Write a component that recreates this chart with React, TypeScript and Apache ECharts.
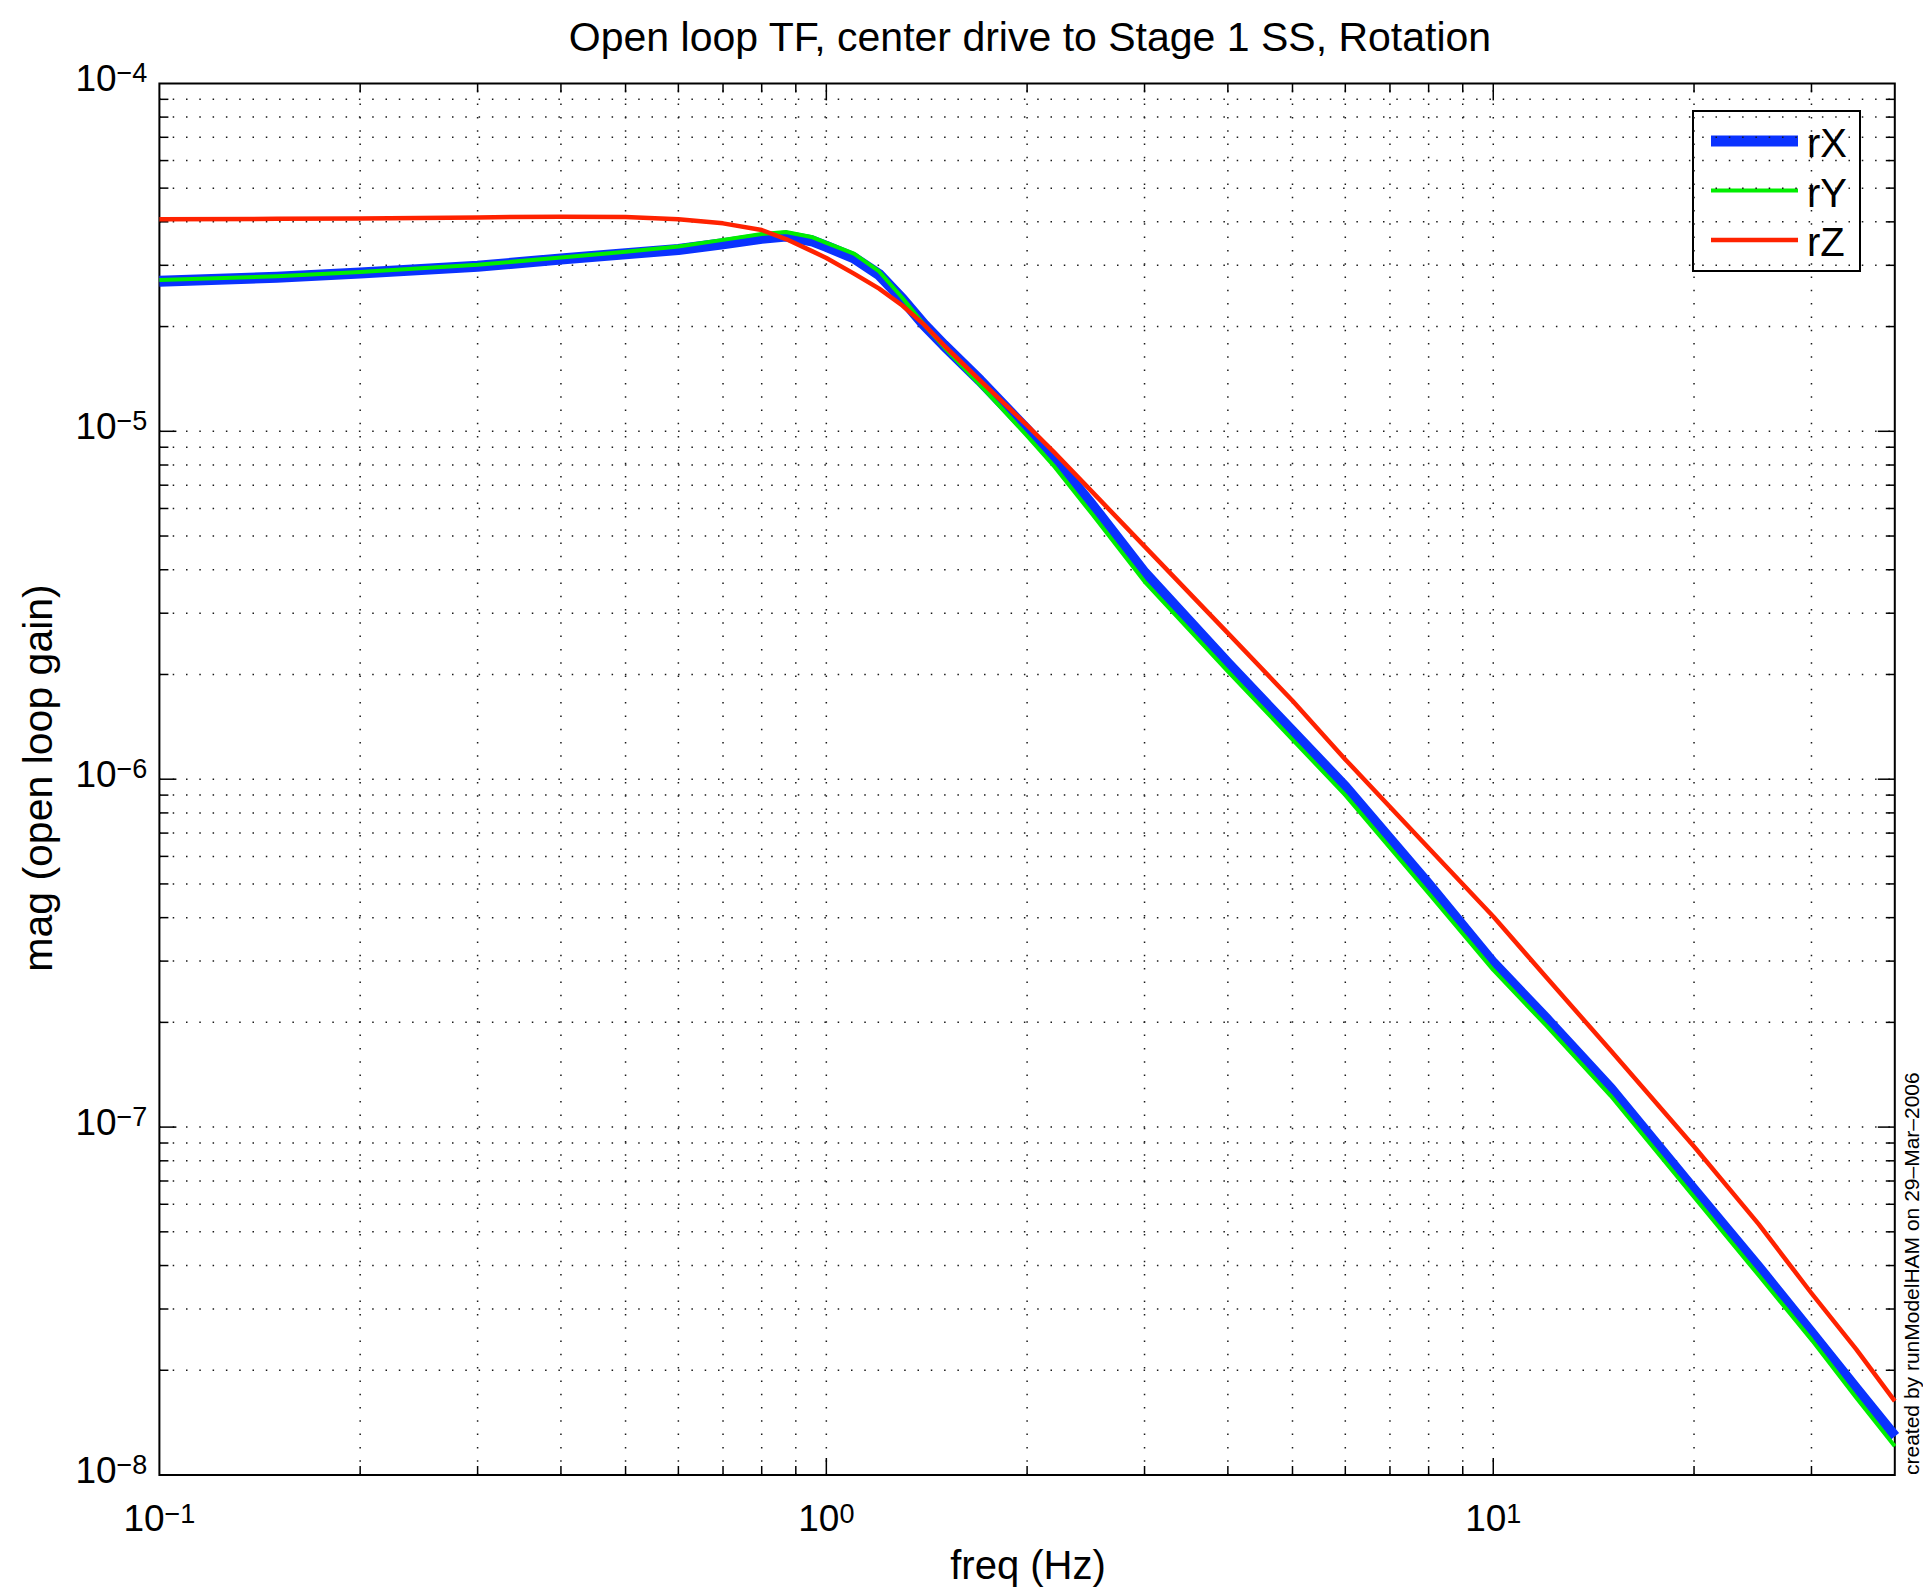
import React, { useEffect, useRef } from "react";
import * as echarts from "echarts";

// ---- data ----
const freqs = [0.1, 0.15, 0.2, 0.3, 0.4, 0.5, 0.6, 0.7, 0.8, 0.87, 0.95, 1.0, 1.1, 1.2, 1.3, 1.4, 1.5, 1.7, 2.0, 2.2, 2.5, 3, 4, 5, 6, 8, 10, 12, 15, 20, 25, 30, 35, 40];
const rXValues = [2.70e-5, 2.77e-5, 2.85e-5, 2.98e-5, 3.13e-5, 3.24e-5, 3.33e-5, 3.46e-5, 3.59e-5, 3.64e-5, 3.53e-5, 3.40e-5, 3.15e-5, 2.82e-5, 2.40e-5, 2.03e-5, 1.77e-5, 1.40e-5, 1.01e-5, 8.3e-6, 6.15e-6, 3.92e-6, 2.15e-6, 1.37e-6, 9.5e-7, 4.98e-7, 2.96e-7, 2.05e-7, 1.29e-7, 6.6e-8, 3.95e-8, 2.56e-8, 1.77e-8, 1.29e-8];
const rYValues = [2.72e-5, 2.79e-5, 2.87e-5, 3.01e-5, 3.16e-5, 3.28e-5, 3.40e-5, 3.55e-5, 3.69e-5, 3.74e-5, 3.62e-5, 3.48e-5, 3.24e-5, 2.88e-5, 2.42e-5, 2.03e-5, 1.75e-5, 1.36e-5, 9.7e-6, 7.9e-6, 5.8e-6, 3.7e-6, 2.04e-6, 1.30e-6, 9.0e-7, 4.7e-7, 2.83e-7, 1.96e-7, 1.23e-7, 6.3e-8, 3.75e-8, 2.45e-8, 1.67e-8, 1.21e-8];
const rZValues = [4.07e-5, 4.08e-5, 4.09e-5, 4.12e-5, 4.14e-5, 4.13e-5, 4.07e-5, 3.96e-5, 3.79e-5, 3.57e-5, 3.30e-5, 3.15e-5, 2.84e-5, 2.57e-5, 2.30e-5, 2.03e-5, 1.77e-5, 1.40e-5, 1.04e-5, 8.67e-6, 6.72e-6, 4.67e-6, 2.63e-6, 1.68e-6, 1.14e-6, 6.34e-7, 4.03e-7, 2.70e-7, 1.66e-7, 8.8e-8, 5.26e-8, 3.33e-8, 2.30e-8, 1.63e-8];

const seriesNames = ["rX", "rY", "rZ"];
const seriesColors = ["#0a32ff", "#00ee00", "#ff2200"];
const seriesWidths = [11, 4, 4.5];

const xTickExps = [-1, 0, 1];
const yTickExps = [-8, -7, -6, -5, -4];
const xGridValues = [0.2, 0.3, 0.4, 0.5, 0.6, 0.7, 0.8, 0.9, 1, 2, 3, 4, 5, 6, 7, 8, 9, 10, 20, 30];
const yGridValues = [
  2e-8, 3e-8, 4e-8, 5e-8, 6e-8, 7e-8, 8e-8, 9e-8,
  1e-7, 2e-7, 3e-7, 4e-7, 5e-7, 6e-7, 7e-7, 8e-7, 9e-7,
  1e-6, 2e-6, 3e-6, 4e-6, 5e-6, 6e-6, 7e-6, 8e-6, 9e-6,
  1e-5, 2e-5, 3e-5, 4e-5, 5e-5, 6e-5, 7e-5, 8e-5, 9e-5,
];

const titleText = "Open loop TF, center drive to Stage 1 SS, Rotation";
const xName = "freq (Hz)";
const yName = "mag (open loop gain)";
const stampText = "created by runModelHAM on 29\u2013Mar\u20132006";

const X_MIN = 0.1;
const X_MAX = 40;
const Y_MIN = 1e-8;
const Y_MAX = 1e-4;

const FONT = "'Liberation Sans', Helvetica, Arial, sans-serif";

const isDecade = (v: number) => {
  const l = Math.log10(v);
  return Math.abs(l - Math.round(l)) < 1e-6;
};

const expFormatter = (allowed: number[]) => (v: number) => {
  const l = Math.log10(v);
  const e = Math.round(l);
  if (Math.abs(l - e) > 1e-6 || allowed.indexOf(e) < 0) return "";
  const s = e < 0 ? "\u2212" + -e : String(e);
  return `{b|10}{s|${s}}`;
};

const richStyle = {
  b: { fontSize: 37, lineHeight: 37, fontFamily: FONT, color: "#000", verticalAlign: "bottom" },
  s: { fontSize: 27, lineHeight: 27, fontFamily: FONT, color: "#000", verticalAlign: "top", padding: [0, 0, 23, 0] },
};

const dotted = { stroke: "#1a1a1a", lineWidth: 1.5, lineDash: [1.5, 11.8] };
const tickStyle = { stroke: "#000", lineWidth: 1.5 };

export default function App() {
  const ref = useRef<HTMLDivElement>(null);

  useEffect(() => {
    if (!ref.current) return;
    const chart = echarts.init(ref.current, undefined, { renderer: "svg" });

    const xGridRender = (_params: any, api: any) => {
      const v = api.value(0);
      const top = api.coord([v, Y_MAX]);
      const bot = api.coord([v, Y_MIN]);
      const len = isDecade(v) ? 17 : 9;
      return {
        type: "group",
        children: [
          { type: "line", shape: { x1: bot[0], y1: bot[1], x2: top[0], y2: top[1] }, style: dotted },
          { type: "line", shape: { x1: bot[0], y1: bot[1], x2: bot[0], y2: bot[1] - len }, style: tickStyle },
          { type: "line", shape: { x1: top[0], y1: top[1], x2: top[0], y2: top[1] + len }, style: tickStyle },
        ],
      };
    };
    const yGridRender = (_params: any, api: any) => {
      const v = api.value(1);
      const l = api.coord([X_MIN, v]);
      const r = api.coord([X_MAX, v]);
      const len = isDecade(v) ? 17 : 9;
      return {
        type: "group",
        children: [
          { type: "line", shape: { x1: l[0], y1: l[1], x2: r[0], y2: r[1] }, style: dotted },
          { type: "line", shape: { x1: l[0], y1: l[1], x2: l[0] + len, y2: l[1] }, style: tickStyle },
          { type: "line", shape: { x1: r[0], y1: r[1], x2: r[0] - len, y2: r[1] }, style: tickStyle },
        ],
      };
    };

    const allValues = [rXValues, rYValues, rZValues];

    const legendX = 1693;
    const legendY = 111;
    const legendW = 167;
    const legendH = 160;
    const legendChildren: any[] = [
      { type: "rect", shape: { x: legendX, y: legendY, width: legendW, height: legendH }, style: { fill: "#fff", stroke: "#000", lineWidth: 2 } },
    ];
    seriesNames.forEach((name, i) => {
      const cy = legendY + 30 + i * 49.5;
      legendChildren.push({
        type: "line",
        shape: { x1: legendX + 18, y1: cy, x2: legendX + 105, y2: cy },
        style: { stroke: seriesColors[i], lineWidth: seriesWidths[i] },
      });
      legendChildren.push({
        type: "text",
        x: legendX + 114,
        y: cy + 2,
        style: { text: name, font: `40px ${FONT}`, fill: "#000", align: "left", verticalAlign: "middle" },
      });
    });

    chart.setOption({
      animation: false,
      backgroundColor: "#fff",
      grid: { left: 159.4, top: 83.4, right: 28.2, bottom: 117, show: true, borderColor: "#000", borderWidth: 2, backgroundColor: "transparent" },
      xAxis: {
        type: "log",
        logBase: 10,
        min: X_MIN,
        max: X_MAX,
        interval: 1,
        axisLine: { show: false },
        axisTick: { show: false },
        splitLine: { show: false },
        axisLabel: { formatter: expFormatter(xTickExps), rich: richStyle, margin: 25, showMaxLabel: false },
      },
      yAxis: {
        type: "log",
        logBase: 10,
        min: Y_MIN,
        max: Y_MAX,
        interval: 1,
        axisLine: { show: false },
        axisTick: { show: false },
        splitLine: { show: false },
        axisLabel: { formatter: expFormatter(yTickExps), rich: richStyle, margin: 12, padding: [0, 0, 10, 0] },
      },
      series: [
        {
          type: "custom",
          name: "xgrid",
          z: 1,
          silent: true,
          clip: false,
          renderItem: xGridRender,
          data: xGridValues.map((v) => [v, 1e-6]),
          encode: { x: 0, y: 1 },
        },
        {
          type: "custom",
          name: "ygrid",
          z: 1,
          silent: true,
          clip: false,
          renderItem: yGridRender,
          data: yGridValues.map((v) => [1, v]),
          encode: { x: 0, y: 1 },
        },
        ...seriesNames.map((name, i) => ({
          type: "line",
          name,
          z: 2 + i,
          showSymbol: false,
          symbol: "none",
          smooth: false,
          lineStyle: { color: seriesColors[i], width: seriesWidths[i], cap: "butt", join: "round" },
          itemStyle: { color: seriesColors[i] },
          data: freqs.map((f, k) => [f, allValues[i][k]]),
        })),
      ],
      graphic: [
        {
          type: "text",
          x: 1030,
          y: 37,
          style: { text: titleText, font: `41px ${FONT}`, fill: "#000", align: "center", verticalAlign: "middle" },
        },
        {
          type: "text",
          x: 1028,
          y: 1565,
          style: { text: xName, font: `40px ${FONT}`, fill: "#000", align: "center", verticalAlign: "middle" },
        },
        {
          type: "text",
          x: 38,
          y: 778,
          rotation: Math.PI / 2,
          style: { text: yName, font: `41px ${FONT}`, fill: "#000", align: "center", verticalAlign: "middle" },
        },
        {
          type: "text",
          x: 1911,
          y: 1475,
          rotation: Math.PI / 2,
          style: { text: stampText, font: `21px ${FONT}`, fill: "#000", align: "left", verticalAlign: "middle" },
        },
        { type: "group", z: 100, children: legendChildren },
      ],
    });

    return () => chart.dispose();
  }, []);

  return <div ref={ref} style={{ position: "absolute", left: 0, top: 0, width: 1923, height: 1592 }} />;
}
